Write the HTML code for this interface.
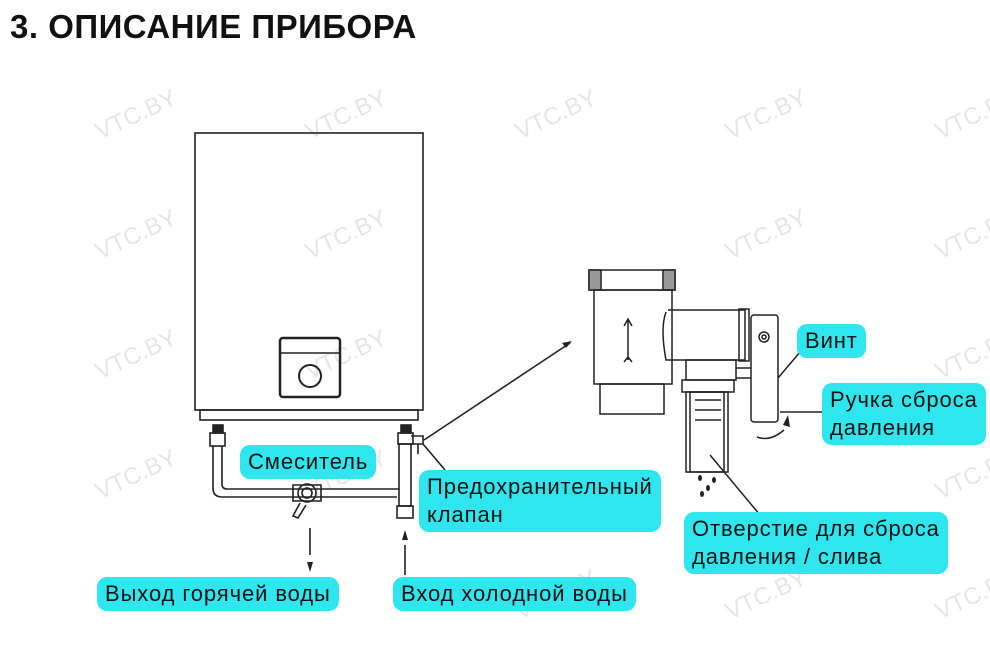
<!DOCTYPE html>
<html><head><meta charset="utf-8"><style>
body{margin:0;width:990px;height:670px;background:#fff;overflow:hidden;position:relative;font-family:"Liberation Sans","DejaVu Sans",sans-serif}
h1{position:absolute;left:10px;top:8px;margin:0;font-size:33px;font-weight:bold;color:#111;letter-spacing:0.5px}
.l{position:absolute;background:#2fe6ef;border-radius:10px;font-size:22px;letter-spacing:0.9px;color:#111;line-height:28px;padding:3px 8px;white-space:nowrap;font-family:"Liberation Sans",sans-serif}
svg{position:absolute;left:0;top:0}
</style></head><body>
<svg width="990" height="670" viewBox="0 0 990 670">
<g fill="#e6e6e6" font-size="24" font-family="Liberation Sans">
<text x="100" y="140" transform="rotate(-25 100 140)">VTC.BY</text>
<text x="310" y="140" transform="rotate(-25 310 140)">VTC.BY</text>
<text x="520" y="140" transform="rotate(-25 520 140)">VTC.BY</text>
<text x="730" y="140" transform="rotate(-25 730 140)">VTC.BY</text>
<text x="940" y="140" transform="rotate(-25 940 140)">VTC.BY</text>
<text x="100" y="260" transform="rotate(-25 100 260)">VTC.BY</text>
<text x="310" y="260" transform="rotate(-25 310 260)">VTC.BY</text>
<text x="730" y="260" transform="rotate(-25 730 260)">VTC.BY</text>
<text x="940" y="260" transform="rotate(-25 940 260)">VTC.BY</text>
<text x="100" y="380" transform="rotate(-25 100 380)">VTC.BY</text>
<text x="310" y="380" transform="rotate(-25 310 380)">VTC.BY</text>
<text x="940" y="380" transform="rotate(-25 940 380)">VTC.BY</text>
<text x="100" y="500" transform="rotate(-25 100 500)">VTC.BY</text>
<text x="310" y="500" transform="rotate(-25 310 500)">VTC.BY</text>
<text x="940" y="500" transform="rotate(-25 940 500)">VTC.BY</text>
<text x="520" y="620" transform="rotate(-25 520 620)">VTC.BY</text>
<text x="730" y="620" transform="rotate(-25 730 620)">VTC.BY</text>
<text x="940" y="620" transform="rotate(-25 940 620)">VTC.BY</text>
</g>
<g fill="none" stroke="#222" stroke-width="1.6">
<rect x="195" y="133" width="228" height="277"/>
<rect x="200" y="410" width="218" height="10"/>
<rect x="280" y="338" width="60" height="59" rx="3" stroke-width="2.5"/>
<line x1="281" y1="353" x2="339" y2="353"/>
<circle cx="310" cy="376" r="11" stroke-width="2"/>
<rect x="213" y="425" width="10" height="8" fill="#222"/>
<rect x="401" y="425" width="10" height="8" fill="#222"/>
<rect x="210" y="433" width="15" height="13"/>
<rect x="398" y="433" width="15" height="11"/>
<path d="M213 446 V488 Q213 497 222 497 H397 M222 446 V484 Q222 489 227 489 H399"/>
<rect x="399" y="444" width="12" height="62"/>
<rect x="397" y="506" width="16" height="12"/>
<circle cx="307" cy="493" r="9"/><circle cx="307" cy="493" r="5"/>
<path d="M293 485 h28 v16 h-28z"/>
<path d="M300 503 L293 516 L298 518 L306 505"/>
<path d="M411 436 h12 v8 h-12 M418 444 v10"/>
<line x1="310" y1="528" x2="310" y2="555"/>
<line x1="405" y1="545" x2="405" y2="575"/>
<line x1="424" y1="440" x2="570" y2="343"/>
<line x1="423" y1="444" x2="445" y2="470"/>
</g>
<path d="M307 562 l3 10 l3 -10z M402 540 l3 -10 l3 10z M572 341 l-10 2 l4 5z" fill="#222"/>
<g fill="none" stroke="#222" stroke-width="1.5">
<rect x="589" y="270" width="86" height="20"/>
<path d="M589 270 h12 v20 h-12z M663 270 h12 v20 h-12z" fill="#999"/>
<rect x="594" y="290" width="78" height="94"/>
<rect x="600" y="384" width="64" height="30"/>
<path d="M666 312 Q660 328 666 360 H745 V310 H668"/>
<rect x="739" y="309" width="10" height="52"/>
<rect x="751" y="315" width="27" height="107" rx="3"/>
<circle cx="764" cy="337" r="5"/><circle cx="764" cy="337" r="2"/>
<rect x="686" y="360" width="50" height="20"/>
<rect x="682" y="380" width="52" height="12"/>
<rect x="686" y="392" width="42" height="80"/>
<rect x="690" y="392" width="34" height="80"/>
<path d="M695 400 h26 M695 410 h26 M695 420 h26"/>
<path d="M736 368 h15 M736 378 h15"/>
<path d="M628 320 v40 M624 326 l4 -7 l4 7 M624 362 l4 -5 l4 5"/>
<path d="M757 437 Q770 442 784 430"/>
<line x1="778" y1="378" x2="800" y2="352"/>
<line x1="780" y1="412" x2="825" y2="412"/>
<line x1="710" y1="455" x2="760" y2="515"/>
</g>
<path d="M783 425 l5 -10 l2 12z" fill="#222"/>
<g fill="#222"><ellipse cx="700" cy="478" rx="2" ry="3"/><ellipse cx="708" cy="488" rx="2" ry="3"/><ellipse cx="702" cy="494" rx="2" ry="3"/><ellipse cx="714" cy="480" rx="2" ry="3"/></g>
</svg>
<h1>3. ОПИСАНИЕ ПРИБОРА</h1>
<div class="l" style="left:240px;top:445px">Смеситель</div>
<div class="l" style="left:419px;top:470px">Предохранительный<br>клапан</div>
<div class="l" style="left:797px;top:324px">Винт</div>
<div class="l" style="left:822px;top:383px">Ручка сброса<br>давления</div>
<div class="l" style="left:684px;top:512px">Отверстие для сброса<br>давления / слива</div>
<div class="l" style="left:97px;top:577px">Выход горячей воды</div>
<div class="l" style="left:393px;top:577px">Вход холодной воды</div>
</body></html>
